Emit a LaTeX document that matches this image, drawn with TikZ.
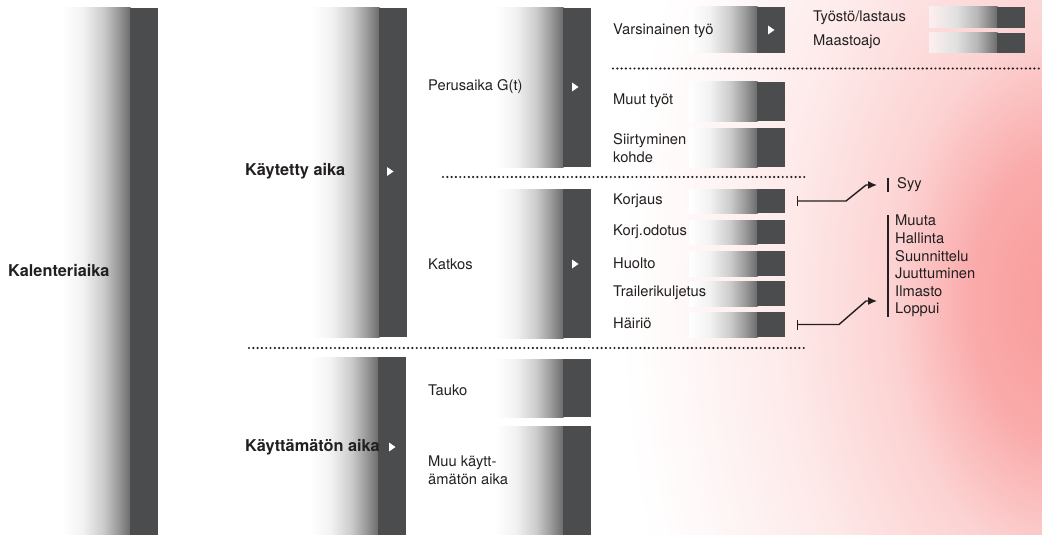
\documentclass[tikz,border=0pt]{standalone}
\usepackage{fontspec}
\setmainfont{TeX Gyre Heros}
\usetikzlibrary{arrows.meta}

\definecolor{barcol}{RGB}{75,76,78}
\definecolor{inkcol}{RGB}{35,31,32}
\definecolor{glowcol}{RGB}{249,155,155}

\pgfdeclarehorizontalshading{barshade}{100bp}{color(0bp)=(white); color(25bp)=(white);
  color(40bp)=(black!5); color(55bp)=(black!20); color(66bp)=(black!40);
  color(75bp)=(black!58); color(100bp)=(black!58)}
\pgfdeclarehorizontalshading{barshadeglow}{100bp}{color(0bp)=(glowcol!16!white);
  color(25bp)=(glowcol!16!white); color(45bp)=(black!12); color(60bp)=(black!28);
  color(75bp)=(black!58); color(100bp)=(black!58)}
\pgfdeclareradialshading{pinkglow}{\pgfpointorigin}{color(0bp)=(glowcol);
  color(5bp)=(glowcol!85!white); color(9.5bp)=(glowcol!45!white);
  color(15.5bp)=(glowcol!22!white); color(21.5bp)=(glowcol!7!white);
  color(25bp)=(white); color(50bp)=(white)}

% bar: gradient part, then the dark part starting at #3
\newcommand{\stagebar}[5][barshade]{%
  \shade[shading=#1] ({#3-68},#4) rectangle ({#3+0.5},#5);
  \fill[barcol] (#3,#4) rectangle ({#3+28},#5);
  \coordinate (#2) at ({#3+28},{(#4+#5)/2});
}

\tikzset{
  lbl/.style={anchor=west, inner sep=0pt, text=inkcol, font=\fontsize{14.7}{17.6}\selectfont},
  head/.style={lbl, font=\fontsize{16.3}{19}\selectfont\bfseries},
  dotline/.style={line width=2.4pt, dash pattern=on 0pt off 4.3pt, line cap=round, draw=inkcol},
  flow/.style={line width=1.4pt, draw=inkcol, arrows={Bar[width=10pt]-Latex[length=9pt,width=8pt]}},
  rule/.style={line width=1.1pt, draw=inkcol},
  pointer/.pic={\fill[white] (0,-4.5) -- (6.5,0) -- (0,4.5) -- cycle;}
}

\begin{document}
\begin{tikzpicture}[x=1pt,y=-1pt]
  \useasboundingbox (0,0) rectangle (1042,535);
  \begin{scope}
    \clip (0,0) rectangle (1042,535);
    \shade[shading=pinkglow] (1060,300) ellipse [x radius=440pt, y radius=700pt];
  \end{scope}

  % bars
  \stagebar{kal}{130}{8}{535}
  \stagebar{kay}{379}{8}{337}
  \stagebar{kaytt}{378}{357}{535}
  \stagebar{peru}{563}{8}{167}
  \stagebar{katk}{563}{189}{338}
  \stagebar{tauk}{563}{359}{417}
  \stagebar{muuk}{563}{426}{535}
  \stagebar{vars}{757}{7}{53}
  \stagebar{muut}{757}{82}{121}
  \stagebar{siirt}{757}{128}{167}
  \stagebar{korj}{757}{189}{213}
  \stagebar{kodo}{757}{220}{244}
  \stagebar{huol}{757}{251}{276}
  \stagebar{trail}{757}{281}{306}
  \stagebar{hair}{757}{312}{337}
  \stagebar[barshadeglow]{tyos}{997}{7}{28}
  \stagebar[barshadeglow]{maas}{997}{33}{53}

  \draw[dotline] (613,68.5) -- (1042,68.5);
  \draw[dotline] (443,177) -- (805,177);
  \draw[dotline] (249,348) -- (805,348);

  \node[head] (kalenteri) at (8,270) {Kalenteriaika};
  \node[head] (kaytetty) at (245,171) {Käytetty aika};
  \node[head] (kayttamaton) at (245,447) {Käyttämätön aika};
  \node[lbl] (perusaika) at (428,87) {Perusaika G(t)};
  \node[lbl] (katkos) at (428,264) {Katkos};
  \node[lbl] (tauko) at (428,390) {Tauko};
  \node[lbl, align=left] (muukaytt) at (428,470) {Muu käytt-\\ämätön aika};
  \node[lbl] (varsinainen) at (613,31) {Varsinainen työ};
  \node[lbl] (muuttyot) at (613,101) {Muut työt};
  \node[lbl, align=left] (siirtyminen) at (613,148) {Siirtyminen\\kohde};
  \node[lbl] (korjaus) at (613,201) {Korjaus};
  \node[lbl] (korjodotus) at (613,232) {Korj.odotus};
  \node[lbl] (huolto) at (613,263) {Huolto};
  \node[lbl] (trailer) at (613,293) {Trailerikuljetus};
  \node[lbl] (hairio) at (613,323) {Häiriö};
  \node[lbl] (tyosto) at (813,18) {Työstö/lastaus};
  \node[lbl] (maastoajo) at (813,42) {Maastoajo};
  \node[lbl] (syy) at (897,185) {Syy};
  \node[lbl, align=left, anchor=north west] (syylist) at (895,215)
    {Muuta\\Hallinta\\Suunnittelu\\Juuttuminen\\Ilmasto\\Loppui};

  \pic at (387,171.5) {pointer};
  \pic at (389,447) {pointer};
  \pic at (572,87) {pointer};
  \pic at (572,264) {pointer};
  \pic at (768,30) {pointer};

  \draw[rule] ([xshift=-9pt]syy.north west) -- ([xshift=-9pt]syy.south west);
  \draw[rule] ([xshift=-7pt]syylist.north west) -- ([xshift=-7pt]syylist.south west);

  \coordinate (korjtail) at ([xshift=12pt]korj);
  \coordinate (hairtail) at ([xshift=12pt]hair);
  \coordinate (listin) at (877,301);
  \draw[flow] (korjtail) -- ++(49,0) -- ([xshift=-31pt]syy.west) -- ([xshift=-20pt]syy.west);
  \draw[flow] (hairtail) -- ++(42,0) -- ([xshift=-11pt]listin) -- (listin);
\end{tikzpicture}
\end{document}
